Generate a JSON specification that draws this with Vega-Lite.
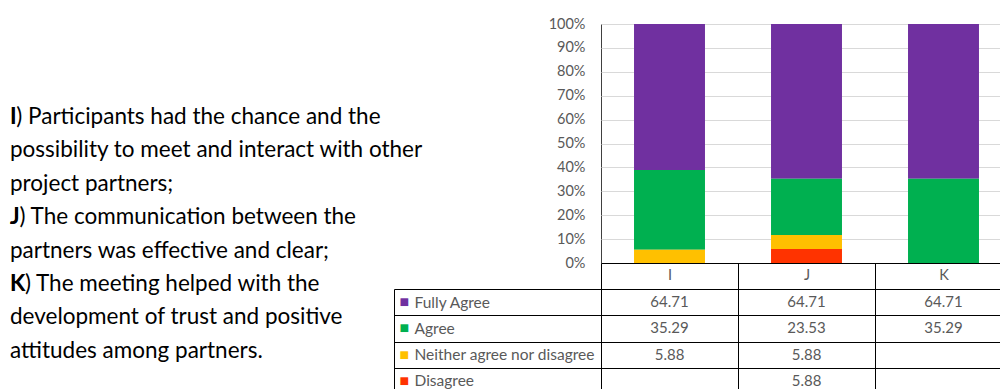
{
  "$schema": "https://vega.github.io/schema/vega-lite/v6.json",
  "padding": {"left": 0, "top": 15, "right": 0, "bottom": 0},
  "background": "white",
  "config": {"font": "Lato"},
  "datasets": {
    "tbl": [
      {"q": "I", "s": "Fully Agree", "k": 4, "v": 64.71},
      {"q": "J", "s": "Fully Agree", "k": 4, "v": 64.71},
      {"q": "K", "s": "Fully Agree", "k": 4, "v": 64.71},
      {"q": "I", "s": "Agree", "k": 3, "v": 35.29},
      {"q": "J", "s": "Agree", "k": 3, "v": 23.53},
      {"q": "K", "s": "Agree", "k": 3, "v": 35.29},
      {"q": "I", "s": "Neither agree nor disagree", "k": 2, "v": 5.88},
      {"q": "J", "s": "Neither agree nor disagree", "k": 2, "v": 5.88},
      {"q": "J", "s": "Disagree", "k": 1, "v": 5.88}
    ],
    "para": [
      {"line": 1, "lead": "I", "text": "I) Participants had the chance and the"},
      {"line": 2, "lead": "", "text": "possibility to meet and interact with other"},
      {"line": 3, "lead": "", "text": "project partners;"},
      {"line": 4, "lead": "J", "text": "J) The communication between the"},
      {"line": 5, "lead": "", "text": "partners was effective and clear;"},
      {"line": 6, "lead": "K", "text": "K) The meeting helped with the"},
      {"line": 7, "lead": "", "text": "development of trust and positive"},
      {"line": 8, "lead": "", "text": "attitudes among partners."}
    ]
  },
  "bounds": "flush",
  "spacing": 581,
  "hconcat": [
    {
      "width": 20,
      "height": 367,
      "data": {"name": "para"},
      "view": {"stroke": null},
      "layer": [
        {
          "mark": {"type": "text", "align": "left", "baseline": "middle", "font": "Lato", "fontSize": 22.5, "color": "#000000"},
          "encoding": {
            "y": {"field": "line", "type": "quantitative", "scale": {"domain": [-1.78, 9.2], "reverse": true, "nice": false, "zero": false}, "axis": null},
            "text": {"field": "text", "type": "nominal"}
          }
        },
        {
          "transform": [{"filter": "datum.lead != ''"}],
          "mark": {"type": "text", "align": "left", "baseline": "middle", "font": "Lato", "fontSize": 22.5, "fontWeight": "bold", "color": "#000000"},
          "encoding": {
            "y": {"field": "line", "type": "quantitative", "scale": {"domain": [-1.78, 9.2], "reverse": true, "nice": false, "zero": false}, "axis": null},
            "text": {"field": "lead", "type": "nominal"}
          }
        }
      ]
    },
    {
      "bounds": "flush",
      "spacing": 26,
      "vconcat": [
        {
          "width": 411,
          "height": 239,
          "data": {"name": "tbl"},
          "view": {"stroke": "#404040"},
          "mark": {"type": "bar", "width": {"band": 0.518}},
          "encoding": {
            "x": {
              "field": "q", "type": "nominal",
              "scale": {"domain": ["I", "J", "K"], "paddingInner": 0, "paddingOuter": 0},
              "axis": {"title": null, "labelAngle": 0, "tickBand": "extent", "tickSize": 26, "tickColor": "#000000", "domainColor": "#000000", "labelPadding": -14, "labelBaseline": "middle", "labelFontSize": 14.5, "labelColor": "#595959", "grid": false}
            },
            "y": {
              "field": "v", "type": "quantitative", "stack": "normalize",
              "scale": {"domain": [0, 1]},
              "axis": {"title": null, "format": "%", "values": [0, 0.1, 0.2, 0.3, 0.4, 0.5, 0.6, 0.7, 0.8, 0.9, 1], "ticks": false, "domain": false, "labelPadding": 16, "labelFontSize": 14.5, "labelColor": "#595959", "grid": true, "gridColor": "#D9D9D9", "gridOpacity": 1}
            },
            "order": {"field": "k", "type": "quantitative", "sort": "ascending"},
            "color": {
              "field": "s", "type": "nominal",
              "scale": {"domain": ["Disagree", "Neither agree nor disagree", "Agree", "Fully Agree"], "range": ["#FF3300", "#FFC000", "#00B050", "#7030A0"]},
              "legend": null
            }
          }
        },
        {
          "width": 411,
          "height": 105,
          "data": {"name": "tbl"},
          "view": {"stroke": "#000000"},
          "layer": [
            {
              "mark": {"type": "text", "fontSize": 15, "color": "#595959", "baseline": "middle"},
              "encoding": {
                "x": {
                  "field": "q", "type": "nominal",
                  "scale": {"domain": ["I", "J", "K"], "paddingInner": 0, "paddingOuter": 0},
                  "axis": {"title": null, "labels": false, "ticks": false, "domain": false, "grid": true, "tickBand": "extent", "gridColor": "#000000", "gridOpacity": 1}
                },
                "y": {
                  "field": "s", "type": "nominal",
                  "scale": {"domain": ["Fully Agree", "Agree", "Neither agree nor disagree", "Disagree"], "paddingInner": 0, "paddingOuter": 0},
                  "axis": {"title": null, "grid": true, "gridColor": "#000000", "gridOpacity": 1, "tickBand": "extent", "ticks": true, "tickSize": 207, "tickColor": "#000000", "domain": true, "domainColor": "#000000", "labelAlign": "left", "labelPadding": -20, "labelFontSize": 15.5, "labelColor": "#595959", "labelBaseline": "middle", "labelLimit": 250}
                },
                "text": {"field": "v", "type": "quantitative", "format": ".2f"}
              }
            },
            {
              "mark": {"type": "text", "opacity": 0},
              "encoding": {
                "y": {
                  "field": "s", "type": "nominal",
                  "scale": {"domain": ["Fully Agree", "Agree", "Neither agree nor disagree", "Disagree"], "paddingInner": 0, "paddingOuter": 0},
                  "axis": {
                    "orient": "left", "offset": 207, "title": null, "grid": false, "ticks": false, "domain": true, "domainColor": "#000000",
                    "labelExpr": "'■'", "labelAlign": "left", "labelPadding": -5, "labelFontSize": 16, "labelBaseline": "middle",
                    "labelColor": {
                      "condition": [
                        {"test": "datum.value === 'Fully Agree'", "value": "#7030A0"},
                        {"test": "datum.value === 'Agree'", "value": "#00B050"},
                        {"test": "datum.value === 'Neither agree nor disagree'", "value": "#FFC000"}
                      ],
                      "value": "#FF3300"
                    }
                  }
                },
                "text": {"field": "v", "type": "quantitative"}
              }
            }
          ],
          "resolve": {"axis": {"y": "independent"}}
        }
      ]
    }
  ]
}
